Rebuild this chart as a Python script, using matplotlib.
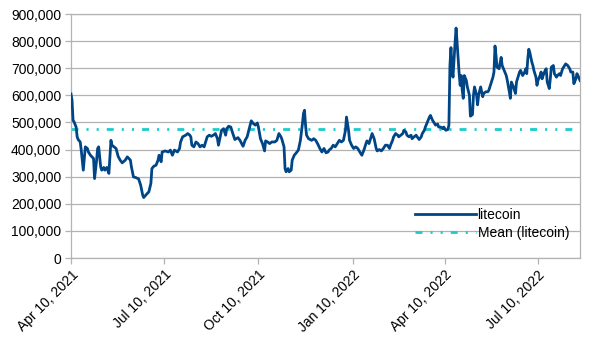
import matplotlib
matplotlib.use('Agg')
import matplotlib.pyplot as plt
import matplotlib.dates as mdates
from matplotlib.ticker import FuncFormatter
import numpy as np
import pandas as pd

plt.rcParams['font.family'] = ['Liberation Sans', 'DejaVu Sans']

start_date = '2021-04-10'

# days after start_date, values in thousands
day_offsets = [
    0, 1, 2, 3, 5, 6, 7, 9, 10, 11, 12, 13, 14, 16, 17, 19, 20, 22, 23, 25,
    26, 27, 28, 29, 30, 32, 33, 35, 37, 38, 39, 40, 42, 44, 46, 48, 50, 53, 55, 58,
    59, 61, 63, 66, 68, 70, 71, 73, 76, 78, 79, 81, 83, 85, 86, 88, 89, 92, 95, 97,
    99, 101,
    104, 106, 107, 109, 112, 114, 116, 117, 118, 120, 122, 124, 126, 128, 130, 131,
    133, 135, 137, 139, 141, 143, 144, 146, 147, 149, 151, 152, 154, 156, 158, 160,
    163, 165, 168, 170, 172, 174, 176, 178, 180, 182, 183, 185, 187, 189, 190, 192,
    194, 196, 199, 201, 203, 205,
    206, 208, 209, 210, 212, 213, 215, 216, 218, 220, 222, 223, 224, 226, 227, 228,
    229, 230, 232, 235, 237, 239, 241, 243, 245, 247, 249, 251, 252, 254, 256, 258,
    260, 262, 264, 266, 268, 269, 271, 272, 274, 276, 278, 280, 282, 284, 286, 288,
    289, 291, 293, 294, 296, 298, 299, 301, 303, 305, 307,
    309, 311, 312, 314, 315, 317, 319, 320, 322, 324, 325, 327, 328, 330, 332, 333,
    335, 337, 338, 340, 342, 343, 345, 346, 348, 350, 351, 353, 355, 356, 358, 359,
    361, 363, 364, 366, 368, 369,
    370, 371, 372, 373, 374, 375, 376, 377, 378, 379, 380, 381, 382, 383, 384, 386,
    387, 389, 390, 392, 393, 394, 396, 397, 398, 400, 401, 402, 403, 405, 407, 408,
    410, 412, 413, 414, 415, 416, 418, 420, 421, 423, 425, 426, 428, 429, 430, 432,
    434, 435, 436, 438, 439,
    441, 443, 444, 445, 446, 447, 448, 450, 451, 452, 454, 455, 456, 458, 459, 460,
    461, 463, 464, 465, 467, 468, 469, 471, 472, 474, 475, 477, 478, 480, 482, 483,
    485, 487, 488, 490, 491, 493, 494, 495, 497,
]

litecoin_k = [
    605, 582, 508, 502, 483, 447, 437, 428, 398, 361, 324, 367, 410, 404, 391, 379, 375, 367, 293, 361,
    404, 410, 373, 336, 324, 334, 324, 334, 312, 373, 434, 416, 410, 404, 375, 361, 351, 361, 373, 361,
    336, 299, 297, 292, 269, 232, 223, 232, 244, 275, 330, 339, 342, 361, 379, 355, 391, 395, 391, 398,
    379, 398,
    391, 404, 428, 447, 453, 459, 453, 447, 416, 410, 428, 422, 410, 416, 410, 422,
    447, 453, 449, 453, 459, 440, 416, 453, 471, 477, 453, 477, 486, 483, 459, 437,
    444, 434, 412, 434, 447, 477, 506, 496, 490, 498, 483, 440, 422, 395, 432, 428,
    422, 428, 428, 434, 459, 447,
    437, 410, 330, 318, 330, 318, 324, 361, 379, 388, 398, 416, 434, 496, 533, 545,
    490, 453, 440, 434, 440, 434, 420, 404, 391, 404, 388, 391, 398, 404, 416, 410,
    422, 434, 428, 434, 471, 520, 471, 434, 416, 404, 410, 404, 391, 379, 398, 422,
    432, 422, 447, 459, 440, 404, 395, 400, 395, 404, 416,
    416, 404, 416, 434, 447, 459, 453, 447, 453, 459, 471, 465, 453, 447, 453, 440,
    447, 453, 447, 437, 447, 459, 471, 483, 502, 520, 526, 508, 496, 490, 494, 483,
    483, 477, 483, 471, 474, 490,
    710, 776, 698, 667, 734, 794, 848, 794, 734, 680, 637, 673, 619, 589, 673, 655,
    631, 601, 523, 529, 601, 631, 601, 565, 601, 631, 613, 595, 607, 613, 613, 619,
    643, 667, 686, 782, 746, 704, 698, 740, 710, 692, 673, 655, 613, 589, 649, 631,
    607, 649, 661, 686, 692,
    673, 686, 698, 680, 734, 770, 758, 722, 710, 692, 667, 637, 655, 673, 686, 661,
    673, 692, 698, 649, 625, 661, 704, 710, 680, 667, 673, 680, 673, 698, 710, 716,
    710, 698, 686, 686, 643, 661, 680, 673, 655,
]

mean_litecoin = 474000

tick_dates = ['2021-04-10', '2021-07-10', '2021-10-10', '2022-01-10', '2022-04-10', '2022-07-10']
y_ticks = [0, 100000, 200000, 300000, 400000, 500000, 600000, 700000, 800000, 900000]

dates = pd.Timestamp(start_date) + pd.to_timedelta(day_offsets, unit='D')
values = np.array(litecoin_k) * 1000

fig = plt.figure(figsize=(6.05, 3.4), dpi=100)
ax = fig.add_axes([71 / 605, 1 - 258 / 340, 509 / 605, 244 / 340])

grid_col = '#b3b3b3'
ax.plot(dates, values, color='#004586', lw=2.0, label='litecoin', zorder=3)
mline, = ax.plot([dates[0], dates[-1]], [mean_litecoin, mean_litecoin], color='#1ccccc',
                 lw=2.0, label='Mean (litecoin)', zorder=2, dash_capstyle='butt')
mline.set_dashes((2.5, 2.9, 0.75, 2.9, 0.75, 2.9))

ax.set_xlim(dates[0], dates[-1])
ax.set_ylim(0, 900000)
ax.set_yticks(y_ticks)
ax.yaxis.set_major_formatter(FuncFormatter(lambda v, p: f'{int(v):,}'))

ax.set_xticks(pd.to_datetime(tick_dates))
ax.xaxis.set_major_formatter(mdates.DateFormatter('%b %d, %Y'))
for lab in ax.get_xticklabels():
    lab.set_rotation(45)
    lab.set_ha('right')
    lab.set_va('top')
    lab.set_rotation_mode('anchor')

ax.grid(axis='y', color=grid_col, lw=0.9)
ax.set_axisbelow(True)
for s in ax.spines.values():
    s.set_color(grid_col)
    s.set_linewidth(0.9)
ax.tick_params(axis='both', colors=grid_col, labelcolor='black', labelsize=10,
               length=4, width=0.9, direction='out')
ax.tick_params(axis='x', pad=3)
ax.tick_params(axis='y', pad=3)

leg = ax.legend(loc='upper left', bbox_to_anchor=(0.676, 0.205), frameon=False,
                fontsize=10, handlelength=4.4, handletextpad=0.1, borderpad=0,
                borderaxespad=0, labelspacing=0.28)

fig.savefig('out.png', dpi=100)
